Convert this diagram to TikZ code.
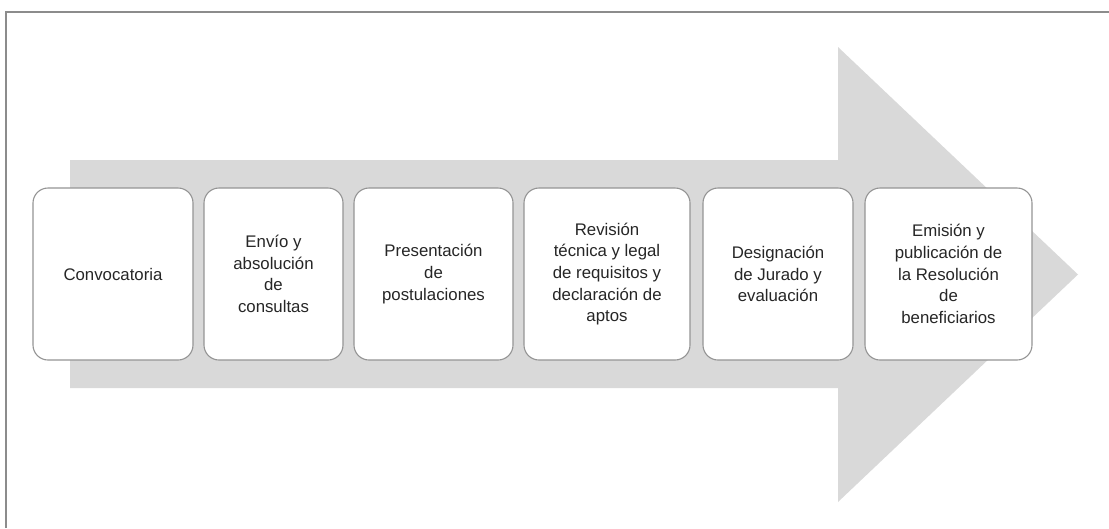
\documentclass[tikz,border=0pt]{standalone}
\usepackage{fontspec}
\setmainfont{Liberation Sans}
\begin{document}
\begin{tikzpicture}[x=1pt,y=-1pt,
  stepbox/.style={draw=black!42, line width=1.1pt, fill=white, rounded corners=15pt,
    minimum height=172pt, inner sep=0pt, align=center, text=black!85,
    font=\fontsize{16.8}{21.6}\selectfont},
  framec/.style={draw=black!45, line width=1.4pt}]
\useasboundingbox (0,0) rectangle (1109,528);
% big arrow
\fill[black!15] (70,160) -- (838,160) -- (838,47) -- (1078,274.5) -- (838,502) -- (838,388) -- (70,388) -- cycle;
% frame
\draw[framec] (6,528) -- (6,12) -- (1109,12);
% boxes
\node[stepbox, minimum width=160pt] (b1) at (113,274) {Convocatoria};
\node[stepbox, minimum width=139pt] (b2) at (273.5,274) {Envío y\\absolución\\de\\consultas};
\node[stepbox, minimum width=159pt] (b3) at (433.5,274) {Presentación\\de\\postulaciones};
\node[stepbox, minimum width=166pt] (b4) at (607,274) {Revisión\\técnica y legal\\de requisitos y\\declaración de\\aptos};
\node[stepbox, minimum width=150pt] (b5) at (778,274) {Designación\\de Jurado y\\evaluación};
\node[stepbox, minimum width=167pt] (b6) at (948.5,274) {Emisión y\\publicación de\\la Resolución\\de\\beneficiarios};
\end{tikzpicture}
\end{document}
